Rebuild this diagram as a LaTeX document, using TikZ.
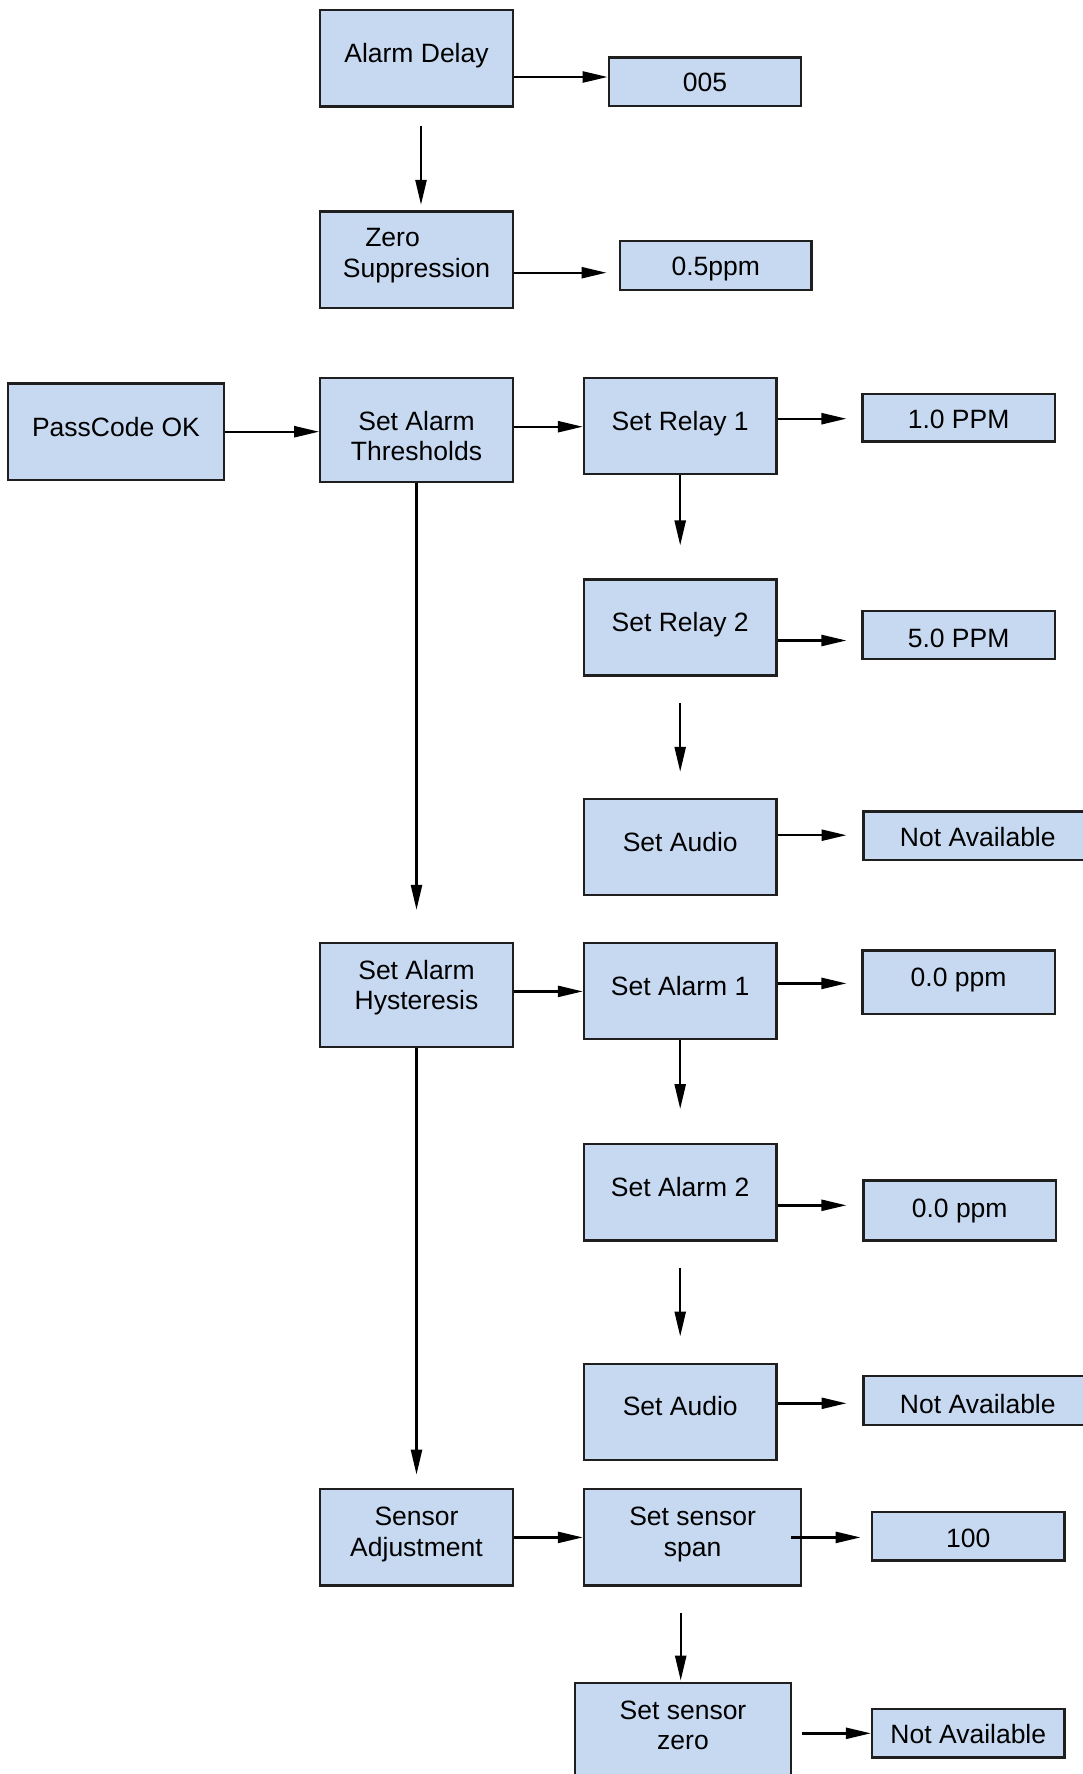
\documentclass[tikz,border=0pt]{standalone}
\usepackage{fontspec}
\setmainfont{Liberation Sans}
\usetikzlibrary{arrows.meta}
\definecolor{boxblue}{HTML}{C7D9F1}
\begin{document}
\begin{tikzpicture}[x=1pt,y=-1pt,
  box/.style={draw=black!88, line width=2.3pt, fill=boxblue, inner sep=0pt,
    minimum width=192.4pt, minimum height=96.2pt},
  txt/.style={font=\fontsize{26.5}{30.5}\selectfont, align=center, inner sep=0pt},
  arr/.style={line width=2.4pt, -{Triangle[length=25pt,width=11pt]}}]
\useasboundingbox (0,0) rectangle (1083,1774);
\clip (0,0) rectangle (1083,1774);

\node[box, label={[txt,yshift=2.4pt]center:Alarm Delay}] (ad) at (416.5,58.3) {};
\node[box, minimum height=48.7pt, label={[txt]center:005}] (v005) at (705,82) {};
\node[box, label={[txt,yshift=4pt]center:{Zero\rule{48pt}{0pt}\\Suppression}}] (zs) at (416.5,259.7) {};
\node[box, minimum width=191.3pt, minimum height=48.7pt, label={[txt,yshift=-4pt]center:0.5ppm}] (p05) at (715.8,265.4) {};
\node[box, minimum width=216.2pt, label={[txt,yshift=5pt]center:PassCode OK}] (pc) at (116,431.7) {};
\node[box, minimum height=104.1pt, label={[txt,yshift=-6pt]center:{Set Alarm\\Thresholds}}] (sat) at (416.5,430) {};
\node[box, label={[txt,yshift=2.4pt]center:Set Relay 1}] (r1) at (680.2,426.1) {};
\node[box, minimum height=47.5pt, label={[txt,yshift=-2pt]center:1.0 PPM}] (v10) at (958.6,417.6) {};
\node[box, label={[txt,yshift=2.4pt]center:Set Relay 2}] (r2) at (680.2,627.5) {};
\node[box, minimum height=47.5pt, label={[txt,yshift=-3pt]center:5.0 PPM}] (v50) at (958.6,634.9) {};
\node[box, label={[txt,yshift=5pt]center:Set Audio}] (au1) at (680.2,847.1) {};
\node[box, minimum width=228.5pt, minimum height=48.7pt, label={[txt,yshift=-1.7pt]center:Not Available}] (na1) at (977.8,835.8) {};
\node[box, minimum height=104.1pt, label={[txt,yshift=7.4pt]center:{Set Alarm\\Hysteresis}}] (hy) at (416.5,994.8) {};
\node[box, label={[txt,yshift=5pt]center:Set Alarm 1}] (a1) at (680.2,990.8) {};
\node[box, minimum height=63.4pt, label={[txt,yshift=2pt]center:0.0 ppm}] (v00a) at (958.6,982.3) {};
\node[box, label={[txt,yshift=5pt]center:Set Alarm 2}] (a2) at (680.2,1192.3) {};
\node[box, minimum height=60pt, label={[txt,yshift=-0.6pt]center:0.0 ppm}] (v00b) at (959.7,1210.4) {};
\node[box, label={[txt,yshift=6pt]center:Set Audio}] (au2) at (680.2,1411.8) {};
\node[box, minimum width=228.5pt, minimum height=48.7pt, label={[txt,yshift=-3pt]center:Not Available}] (na2) at (977.8,1400.6) {};
\node[box, label={[txt,yshift=3pt]center:{Sensor\\Adjustment}}] (sa) at (416.5,1537.4) {};
\node[box, minimum width=217.2pt, label={[txt,yshift=3pt]center:{Set sensor\\span}}] (sp) at (692.6,1537.4) {};
\node[box, minimum width=192.5pt, minimum height=48.5pt, label={[txt,yshift=-1.7pt]center:100}] (v100) at (968.3,1536.2) {};
\node[box, minimum width=216.4pt, label={[txt,yshift=5.7pt]center:{Set sensor\\zero}}] (sz) at (683,1730.9) {};
\node[box, minimum width=192.5pt, minimum height=48.3pt, label={[txt,yshift=-0.6pt]center:Not Available}] (na3) at (968.3,1733.2) {};

\draw[arr] ([yshift=-18.7pt]ad.east) -- ([yshift=-18.7pt]ad.east -| v005.west);
\draw[arr] ([xshift=4.5pt,yshift=-18pt]ad.south) -- ([xshift=4.5pt,yshift=5.6pt]zs.north);
\draw[arr, shorten >=12.5pt] ([yshift=-13pt]zs.east) -- ([yshift=-13pt]zs.east -| p05.west);
\draw[arr] (pc.east) -- (pc.east -| sat.west);
\draw[arr] ([yshift=3.3pt]sat.east) -- ([yshift=3.3pt]sat.east -| r1.west);
\draw[arr, shorten >=14.8pt] ([yshift=7.4pt]r1.east) -- ([yshift=7.4pt]r1.east -| v10.west);
\draw[arr, shorten >=32.8pt] (r1.south) -- (r2.north);
\draw[arr, shorten >=14.8pt] ([yshift=-13pt]r2.east) -- ([yshift=-13pt]r2.east -| v50.west);
\draw[arr, shorten <=26pt, shorten >=26pt] (r2.south) -- (au1.north);
\draw[arr, shorten >=15.9pt] ([yshift=11.9pt]au1.east) -- ([yshift=11.9pt]au1.east -| na1.west);
\draw[arr, shorten >=31.7pt] (sat.south) -- (hy.north);
\draw[arr] ([yshift=3.4pt]hy.east) -- ([yshift=3.4pt]hy.east -| a1.west);
\draw[arr, shorten >=14.8pt] ([yshift=7.4pt]a1.east) -- ([yshift=7.4pt]a1.east -| v00a.west);
\draw[arr, shorten >=34pt] (a1.south) -- (a2.north);
\draw[arr, shorten >=15.9pt] ([yshift=-13pt]a2.east) -- ([yshift=-13pt]a2.east -| v00b.west);
\draw[arr, shorten <=26pt, shorten >=26pt] (a2.south) -- (au2.north);
\draw[arr, shorten >=15.9pt] ([yshift=8.5pt]au2.east) -- ([yshift=8.5pt]au2.east -| na2.west);
\draw[arr, shorten >=13.5pt] (hy.south) -- (sa.north);
\draw[arr] (sa.east) -- (sa.east -| sp.west);
\draw[arr, shorten <=-11.2pt, shorten >=10.3pt] (sp.east) -- (sp.east -| v100.west);
\draw[arr, shorten <=26.2pt, shorten >=1pt] ([xshift=-11.9pt]sp.south) -- ([xshift=-11.9pt]sp.south |- sz.north);
\draw[arr, shorten <=9.5pt] ([yshift=-2.4pt]sz.east) -- ([yshift=-2.4pt]sz.east -| na3.west);
\end{tikzpicture}
\end{document}
